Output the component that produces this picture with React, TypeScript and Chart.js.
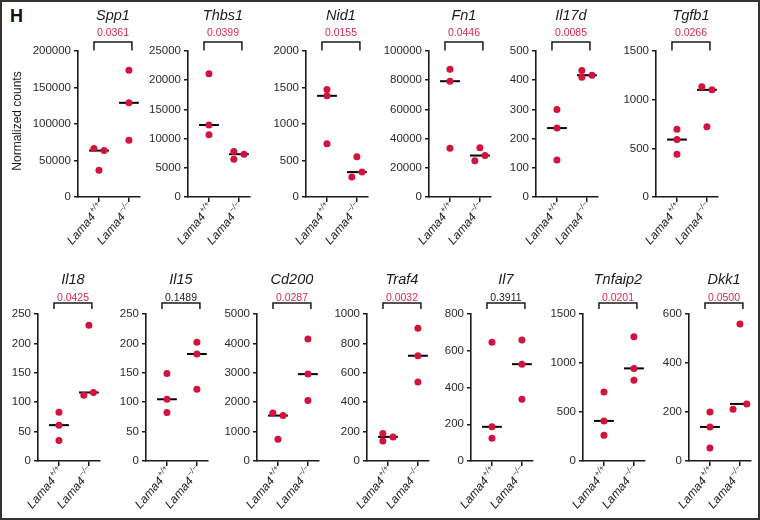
import React, { useEffect, useRef } from 'react';
import { Chart, registerables } from 'chart.js';

Chart.register(...registerables);

// ---------------- data ----------------
const GENES = ['Spp1', 'Thbs1', 'Nid1', 'Fn1', 'Il17d', 'Tgfb1', 'Il18', 'Il15', 'Cd200', 'Traf4', 'Il7', 'Tnfaip2', 'Dkk1'];
const P_VALUES = ['0.0361', '0.0399', '0.0155', '0.0446', '0.0085', '0.0266', '0.0425', '0.1489', '0.0287', '0.0032', '0.3911', '0.0201', '0.0500'];
const Y_MAX = [200000, 25000, 2000, 100000, 500, 1500, 250, 250, 5000, 1000, 800, 1500, 600];
const Y_STEP = [50000, 5000, 500, 20000, 100, 500, 50, 50, 1000, 200, 200, 500, 200];
const GROUP_NAME = 'Lama4';
const GROUP_SUPS = ['+/+', '\u2212/\u2212'];
const Y_LABEL = 'Normalized counts';
const FIGURE_LETTER = 'H';

const WT_VALUES = [
  [66300, 63600, 36800],
  [21100, 12330, 10680],
  [1473, 1386, 731],
  [87500, 79300, 33400],
  [300, 236, 127],
  [696, 590, 440],
  [83, 61, 35],
  [149, 105, 82.5],
  [1636, 1545, 740],
  [187, 164, 136],
  [646, 186, 124],
  [705, 409, 263],
  [200, 139, 53],
];
const KO_VALUES = [
  [173700, 129000, 77700],
  [7780, 7330, 6480],
  [550, 341, 273],
  [33800, 28400, 24800],
  [433, 417, 410],
  [1132, 1101, 722],
  [231, 116.5, 112],
  [202, 182, 122],
  [4148, 2955, 2058],
  [903, 716, 537],
  [658, 527, 336],
  [1268, 945, 825],
  [559, 233, 211],
];
// horizontal spread of the dots around each group (in category units)
const WT_JITTER = [
  [-0.17, 0.17, 0], [0, 0, 0], [0, 0, 0], [0, 0, 0], [0, 0, 0], [0, 0, 0],
  [0, 0, 0], [0, 0, 0], [-0.17, 0.17, 0], [-0.17, 0.17, -0.17], [0, 0, 0], [0, 0, 0], [0, 0, 0],
];
const KO_JITTER = [
  [0, 0, 0], [-0.17, 0.17, -0.17], [0, 0.17, -0.17], [0, 0.17, -0.17], [-0.17, 0.17, -0.17], [-0.17, 0.17, 0],
  [0, 0.15, -0.17], [0, 0, 0], [0, 0, 0], [0, 0, 0], [0, 0, 0], [0, 0, 0], [0, 0.23, -0.23],
];

// ---------------- layout / style ----------------
const FONT = '"Liberation Sans", Arial, sans-serif';
const RED = '#d3123d';
const RED_TEXT = '#dc2a52';
const INK = '#1a1a1a';
const TICK_INK = '#2a2a2a';

const PANEL_ROW = [0, 0, 0, 0, 0, 0, 1, 1, 1, 1, 1, 1, 1];
const PANEL_AXIS_X = [78, 188, 306, 429, 536, 656, 38, 146, 257, 367, 471, 583, 689];
const ROWS = [
  { top: 51, height: 146, titleOff: 31, pOff: 15, bracketOff: 9, legEnd: 0.5 },
  { top: 314, height: 147, titleOff: 30, pOff: 13, bracketOff: 11, legEnd: 5 },
];
const PLOT_W = 62;
const Y_W = 70;
const X_H = 70;
const PAD_T = 56;
const PAD_R = 10;
const X_MIN = -0.7;
const X_MAX = 1.37;

function median(a: number[]) {
  const s = [...a].sort((p, q) => p - q);
  return s[Math.floor(s.length / 2)];
}

const panelPlugin = {
  id: 'panel',
  afterDraw(chart: any, _args: any, opts: any) {
    const { ctx, chartArea } = chart;
    const x = chart.scales.x;
    const { top, bottom, left } = chartArea;
    const c1 = x.getPixelForValue(0);
    const c2 = x.getPixelForValue(1);
    const mid = (c1 + c2) / 2 - 1;
    ctx.save();
    // title
    ctx.fillStyle = INK;
    ctx.textAlign = 'center';
    ctx.textBaseline = 'alphabetic';
    ctx.font = `italic 14.5px ${FONT}`;
    ctx.fillText(opts.title, mid, top - opts.titleOff);
    // p value
    ctx.font = `10.5px ${FONT}`;
    ctx.fillStyle = opts.sig ? RED_TEXT : INK;
    ctx.fillText(opts.p, mid, top - opts.pOff);
    // bracket
    ctx.strokeStyle = INK;
    ctx.lineWidth = 1.5;
    ctx.beginPath();
    const by = top - opts.bracketOff;
    const ly = top - opts.legEnd;
    ctx.moveTo(c1 - 5, ly);
    ctx.lineTo(c1 - 5, by);
    ctx.lineTo(c2 + 3, by);
    ctx.lineTo(c2 + 3, ly);
    ctx.stroke();
    // x labels
    const angle = (50 * Math.PI) / 180;
    [c1, c2].forEach((cx, k) => {
      ctx.save();
      ctx.translate(cx + 2, bottom + 8);
      ctx.rotate(-angle);
      ctx.fillStyle = INK;
      ctx.textAlign = 'left';
      ctx.font = `italic 12px ${FONT}`;
      const wm = ctx.measureText(GROUP_NAME).width;
      ctx.font = `italic 8px ${FONT}`;
      const ws = ctx.measureText(GROUP_SUPS[k]).width;
      ctx.font = `italic 12px ${FONT}`;
      ctx.fillText(GROUP_NAME, -(wm + ws + 1), 4);
      ctx.font = `italic 8px ${FONT}`;
      ctx.fillText(GROUP_SUPS[k], -ws, -1.5);
      ctx.restore();
    });
    // y label
    if (opts.ylabel) {
      ctx.save();
      ctx.translate(left - 60, (top + bottom) / 2 - 3);
      ctx.rotate(-Math.PI / 2);
      ctx.fillStyle = INK;
      ctx.textAlign = 'center';
      ctx.textBaseline = 'middle';
      ctx.font = `12px ${FONT}`;
      ctx.fillText(Y_LABEL, 0, 0);
      ctx.restore();
    }
    ctx.restore();
  },
};

function Panel({ i }: { i: number }) {
  const ref = useRef<HTMLCanvasElement>(null);
  const row = ROWS[PANEL_ROW[i]];
  const W = Y_W + PLOT_W + PAD_R;
  const H = PAD_T + row.height + X_H;
  const left = PANEL_AXIS_X[i] - Y_W;
  const topPx = row.top - PAD_T;

  useEffect(() => {
    if (!ref.current) return;
    const wt = WT_VALUES[i];
    const ko = KO_VALUES[i];
    const mWt = median(wt);
    const mKo = median(ko);
    const axisGrid = { display: true, drawOnChartArea: false, drawTicks: true, color: INK, lineWidth: 1.5 };
    const chart = new Chart(ref.current, {
      type: 'scatter',
      data: {
        datasets: [
          {
            data: wt.map((v, k) => ({ x: 0 + WT_JITTER[i][k], y: v })),
            backgroundColor: RED,
            borderWidth: 0,
            pointRadius: 3.5,
            clip: false,
          },
          {
            data: ko.map((v, k) => ({ x: 1 + KO_JITTER[i][k], y: v })),
            backgroundColor: RED,
            borderWidth: 0,
            pointRadius: 3.5,
            clip: false,
          },
          {
            type: 'line',
            data: [{ x: -0.33, y: mWt }, { x: 0.33, y: mWt }],
            borderColor: '#000',
            borderWidth: 2,
            pointRadius: 0,
            clip: false,
          },
          {
            type: 'line',
            data: [{ x: 0.67, y: mKo }, { x: 1.33, y: mKo }],
            borderColor: '#000',
            borderWidth: 2,
            pointRadius: 0,
            clip: false,
          },
        ] as any,
      },
      options: {
        animation: false,
        responsive: false,
        events: [],
        layout: { padding: { top: PAD_T, right: PAD_R, left: 0, bottom: 0 } },
        plugins: {
          legend: { display: false },
          tooltip: { enabled: false },
          panel: {
            title: GENES[i],
            p: P_VALUES[i],
            sig: parseFloat(P_VALUES[i]) <= 0.05,
            ylabel: i === 0,
            titleOff: row.titleOff,
            pOff: row.pOff,
            bracketOff: row.bracketOff,
            legEnd: row.legEnd,
          },
        } as any,
        scales: {
          x: {
            type: 'linear',
            min: X_MIN,
            max: X_MAX,
            afterBuildTicks: (s: any) => {
              s.ticks = [{ value: 0 }, { value: 1 }];
            },
            afterFit: (s: any) => {
              s.height = X_H;
            },
            ticks: { display: false },
            grid: { ...axisGrid, tickLength: 5 },
            border: { display: true, color: INK, width: 1.6 },
          },
          y: {
            type: 'linear',
            min: 0,
            max: Y_MAX[i],
            afterFit: (s: any) => {
              s.width = Y_W;
            },
            ticks: {
              stepSize: Y_STEP[i],
              callback: (v: any) => String(v),
              color: TICK_INK,
              font: { family: FONT, size: 11.5 },
              padding: 3,
            },
            grid: { ...axisGrid, tickLength: 4 },
            border: { display: true, color: INK, width: 1.6 },
          },
        } as any,
      },
      plugins: [panelPlugin as any],
    });
    return () => chart.destroy();
  }, [i]);

  return (
    <canvas
      ref={ref}
      width={W}
      height={H}
      style={{ position: 'absolute', left, top: topPx, width: W, height: H }}
    />
  );
}

export default function App() {
  return (
    <div style={{ position: 'absolute', left: 0, top: 0, width: 760, height: 520, background: '#fff', overflow: 'hidden' }}>
      <div
        style={{
          position: 'absolute', left: 0, top: 0, width: 760, height: 520,
          border: '2px solid #333', boxSizing: 'border-box',
        }}
      />
      <div
        style={{
          position: 'absolute', left: 10, top: 6, font: `bold 18px ${FONT}`, lineHeight: '20px', color: '#111',
        }}
      >
        {FIGURE_LETTER}
      </div>
      {GENES.map((_, i) => (
        <Panel key={i} i={i} />
      ))}
    </div>
  );
}
